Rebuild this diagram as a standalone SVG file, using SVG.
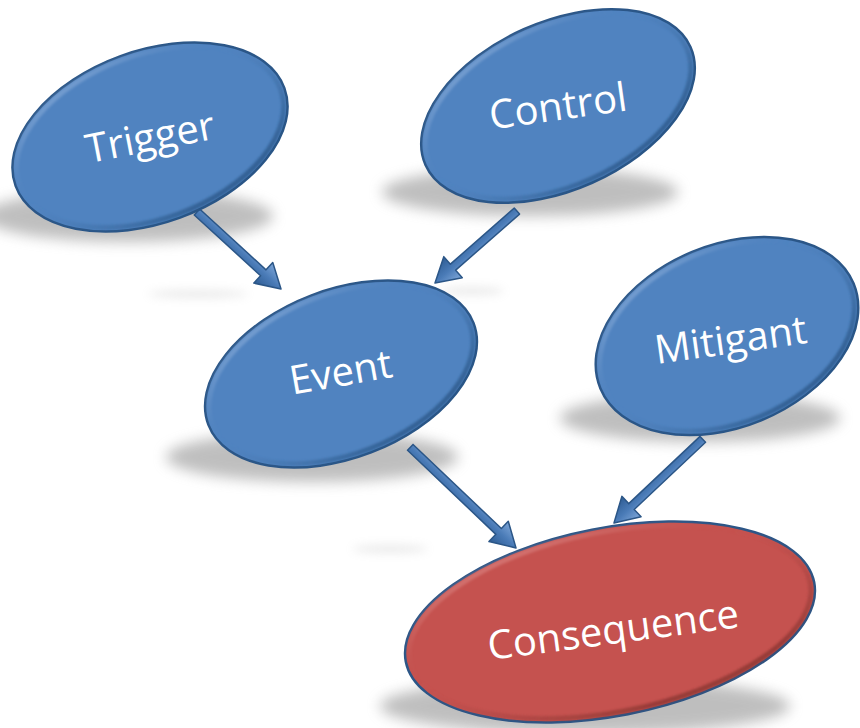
<svg xmlns="http://www.w3.org/2000/svg" width="860" height="728" viewBox="0 0 860 728">
  <defs>
    <style>
      .shadow { fill: #8a8a8a; opacity: 0.55; filter: url(#soft); }
      .streak { fill: #a0a0a0; opacity: 0.22; filter: url(#softer); }
      .body-blue { fill: #5083c0; stroke: #2b5687; stroke-width: 2.5; }
      .body-red { fill: #c5524f; stroke: #2b5687; stroke-width: 2.5; }
      .rim-blue { fill: none; stroke: url(#rimBlue); stroke-width: 5; filter: url(#rimBlur); }
      .rim-red { fill: none; stroke: url(#rimRed); stroke-width: 5; filter: url(#rimBlur); }
      .label { font-family: "Open Sans", "Liberation Sans", sans-serif; font-size: 40px; fill: #ffffff; text-anchor: middle; }
      .arrow { fill: url(#arrowFill); stroke: #2b5687; stroke-width: 1.5; stroke-linejoin: round; }
    </style>
    <filter id="soft" x="-30%" y="-80%" width="160%" height="260%">
      <feGaussianBlur stdDeviation="7"/>
    </filter>
    <filter id="softer" x="-50%" y="-300%" width="200%" height="700%">
      <feGaussianBlur stdDeviation="5"/>
    </filter>
    <filter id="rimBlur" x="-10%" y="-10%" width="120%" height="120%">
      <feGaussianBlur stdDeviation="1.2"/>
    </filter>
    <linearGradient id="rimBlue" x1="0" y1="0" x2="0.6" y2="1">
      <stop offset="0" stop-color="#a9c4e8" stop-opacity="0.9"/>
      <stop offset="0.45" stop-color="#4f81bd" stop-opacity="0"/>
      <stop offset="1" stop-color="#24507f" stop-opacity="0.65"/>
    </linearGradient>
    <linearGradient id="rimRed" x1="0" y1="0" x2="0.6" y2="1">
      <stop offset="0" stop-color="#eaa3a1" stop-opacity="0.9"/>
      <stop offset="0.45" stop-color="#c0504d" stop-opacity="0"/>
      <stop offset="1" stop-color="#7e2e2c" stop-opacity="0.65"/>
    </linearGradient>
    <linearGradient id="arrowFill" gradientUnits="userSpaceOnUse" x1="0" y1="-14" x2="0" y2="14">
      <stop offset="0" stop-color="#7ea6d8"/>
      <stop offset="0.5" stop-color="#4a7bb7"/>
      <stop offset="1" stop-color="#2f5d94"/>
    </linearGradient>
  </defs>

  <!-- ground shadows -->
  <g id="shadows">
    <ellipse class="shadow" cx="128" cy="216" rx="145" ry="26"/>
    <ellipse class="shadow" cx="530" cy="192" rx="148" ry="24"/>
    <ellipse class="shadow" cx="312" cy="457" rx="146" ry="25"/>
    <ellipse class="shadow" cx="700" cy="418" rx="140" ry="24"/>
    <ellipse class="shadow" cx="585" cy="706" rx="205" ry="28"/>
    <ellipse class="streak" cx="198" cy="294" rx="50" ry="4"/>
    <ellipse class="streak" cx="472" cy="291" rx="32" ry="4"/>
    <ellipse class="streak" cx="390" cy="549" rx="38" ry="4"/>
  </g>

  <!-- connectors -->
  <g id="connectors">
    <path class="arrow" transform="translate(281 289) rotate(42.5)" d="M -114 -4 L -24 -4 L -24 -14 L 0 0 L -24 14 L -24 4 L -114 4 Z"/>
    <path class="arrow" transform="translate(435 283) rotate(138.7)" d="M -109 -4 L -24 -4 L -24 -14 L 0 0 L -24 14 L -24 4 L -109 4 Z"/>
    <path class="arrow" transform="translate(516 548) rotate(43.6)" d="M -146 -4 L -24 -4 L -24 -14 L 0 0 L -24 14 L -24 4 L -146 4 Z"/>
    <path class="arrow" transform="translate(614 523) rotate(136.7)" d="M -122 -4 L -24 -4 L -24 -14 L 0 0 L -24 14 L -24 4 L -122 4 Z"/>
  </g>

  <g id="trigger" transform="translate(150 137)">
    <g transform="rotate(-20)">
      <ellipse class="body-blue" rx="143" ry="86"/>
      <ellipse class="rim-blue" rx="139" ry="82"/>
    </g>
    <text class="label" transform="rotate(-11)" x="0" y="14">Trigger</text>
  </g>

  <g id="control" transform="translate(558 106)">
    <g transform="rotate(-24)">
      <ellipse class="body-blue" rx="145" ry="84"/>
      <ellipse class="rim-blue" rx="141" ry="80"/>
    </g>
    <text class="label" transform="rotate(-8)" x="0" y="14">Control</text>
  </g>

  <g id="event" transform="translate(341 374)">
    <g transform="rotate(-21)">
      <ellipse class="body-blue" rx="142" ry="84"/>
      <ellipse class="rim-blue" rx="138" ry="80"/>
    </g>
    <text class="label" transform="rotate(-10)" x="0" y="12">Event</text>
  </g>

  <g id="mitigant" transform="translate(727 336)">
    <g transform="rotate(-22.5)">
      <ellipse class="body-blue" rx="137" ry="91"/>
      <ellipse class="rim-blue" rx="133" ry="87"/>
    </g>
    <text class="label" transform="rotate(-8)" x="3" y="18">Mitigant</text>
  </g>

  <g id="consequence" transform="translate(610 622)">
    <g transform="rotate(-11)">
      <ellipse class="body-red" rx="208" ry="94"/>
      <ellipse class="rim-red" rx="204" ry="90"/>
    </g>
    <text class="label" transform="rotate(-7.5)" x="2" y="22">Consequence</text>
  </g>
</svg>
